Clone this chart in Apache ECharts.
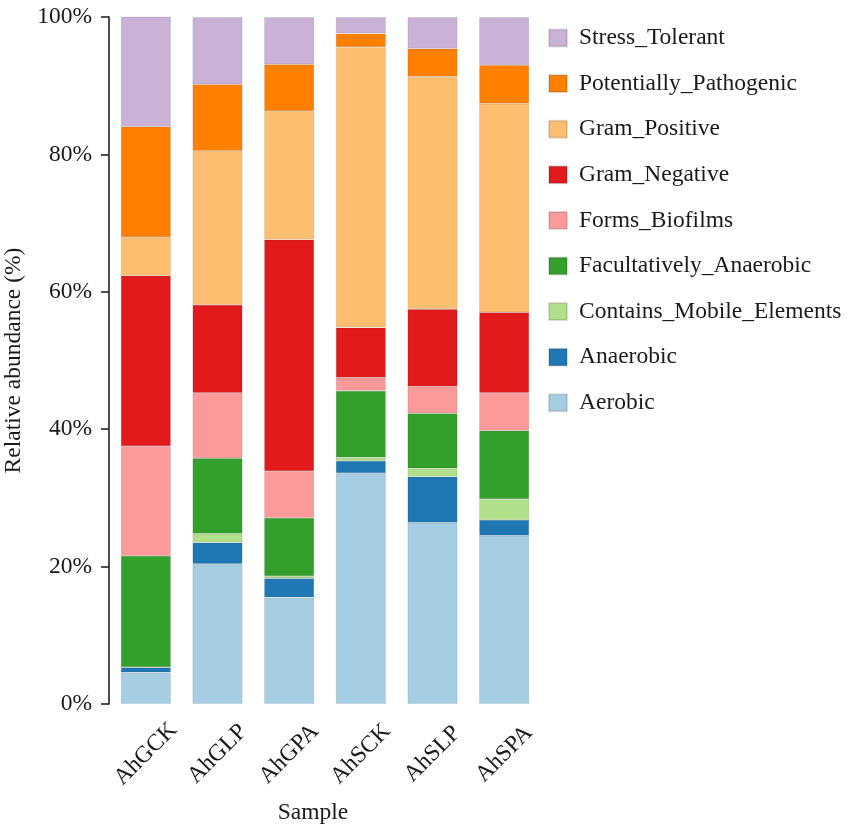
<!DOCTYPE html>
<html>
<head>
<meta charset="utf-8">
<script src="https://cdn.jsdelivr.net/npm/echarts@6/dist/echarts.min.js"></script>
<style>
    html, body { margin: 0; padding: 0; background: #fff; }
    #main { width: 851px; height: 832px; }
</style>
</head>
<body>
<div id="main"></div>
<script>
// samples on the x axis
var samples = ['AhGCK', 'AhGLP', 'AhGPA', 'AhSCK', 'AhSLP', 'AhSPA'];

// relative abundance (%) per phenotype, bottom of the stack first
var aerobic       = [4.6, 20.4, 15.5, 33.6, 26.4, 24.5];
var anaerobic     = [0.7, 3.1, 2.8, 1.8, 6.7, 2.3];
var mobileElem    = [0.05, 1.3, 0.3, 0.5, 1.2, 3.0];
var facultative   = [16.2, 11.0, 8.5, 9.7, 8.0, 10.0];
var biofilms      = [16.0, 9.5, 6.8, 1.9, 3.9, 5.5];
var gramNegative  = [24.8, 12.8, 33.7, 7.3, 11.3, 11.7];
var gramPositive  = [5.6, 22.4, 18.7, 40.8, 33.8, 30.4];
var pathogenic    = [16.1, 9.7, 6.8, 2.0, 4.1, 5.6];
var stressTol     = [16.0, 9.8, 6.9, 2.4, 4.6, 7.0];

var names = ['Aerobic', 'Anaerobic', 'Contains_Mobile_Elements', 'Facultatively_Anaerobic',
             'Forms_Biofilms', 'Gram_Negative', 'Gram_Positive', 'Potentially_Pathogenic', 'Stress_Tolerant'];
var values = [aerobic, anaerobic, mobileElem, facultative, biofilms, gramNegative, gramPositive, pathogenic, stressTol];
var colors = ['#A6CEE3', '#1F78B4', '#B2DF8A', '#33A02C', '#FB9A99', '#E31A1C', '#FDBF6F', '#FF7F00', '#CAB2D6'];

var font = 'Liberation Serif';
var txt = '#1a1a1a';

var series = names.map(function (n, i) {
    return {
        name: n,
        type: 'bar',
        stack: 'total',
        barWidth: 50,
        itemStyle: { color: colors[i], borderColor: 'rgba(0,0,0,0.12)', borderWidth: 0.8 },
        data: values[i]
    };
});

var chart = echarts.init(document.getElementById('main'));
var option = {
    animation: false,
    color: colors,
    textStyle: { fontFamily: font, color: txt },
    grid: { left: 110, top: 17, width: 430, height: 687, containLabel: false, outerBoundsMode: 'none' },
    legend: {
        orient: 'vertical',
        left: 543,
        top: 21,
        itemWidth: 18,
        itemHeight: 17,
        itemGap: 21.6,
        icon: 'rect',
        data: names.slice().reverse(),
        textStyle: { fontFamily: font, fontSize: 23.5, color: txt, lineHeight: 24, padding: [0, 0, 0, 7] }
    },
    xAxis: {
        type: 'category',
        data: samples,
        name: 'Sample',
        nameLocation: 'middle',
        nameGap: 97,
        nameTextStyle: { fontFamily: font, fontSize: 23.5, color: txt, padding: [0, 24, 0, 0] },
        axisLine: { show: false },
        axisTick: { show: false },
        axisLabel: {
            rotate: 45,
            align: 'center',
            verticalAlign: 'middle',
            margin: 50,
            fontFamily: font,
            fontSize: 23.5,
            color: txt
        }
    },
    yAxis: {
        type: 'value',
        min: 0,
        max: 100,
        interval: 20,
        offset: 1,
        name: 'Relative abundance (%)',
        nameLocation: 'middle',
        nameGap: 70,
        nameTextStyle: { fontFamily: font, fontSize: 23.5, color: txt },
        splitLine: { show: false },
        axisLine: { show: true, lineStyle: { color: '#222', width: 1.6 } },
        axisTick: { show: true, length: 8, lineStyle: { color: '#222', width: 1.6 } },
        axisLabel: {
            margin: 17,
            fontFamily: font,
            fontSize: 23.5,
            color: txt,
            formatter: '{value}%'
        }
    },
    series: series
};
chart.setOption(option);
</script>
</body>
</html>
